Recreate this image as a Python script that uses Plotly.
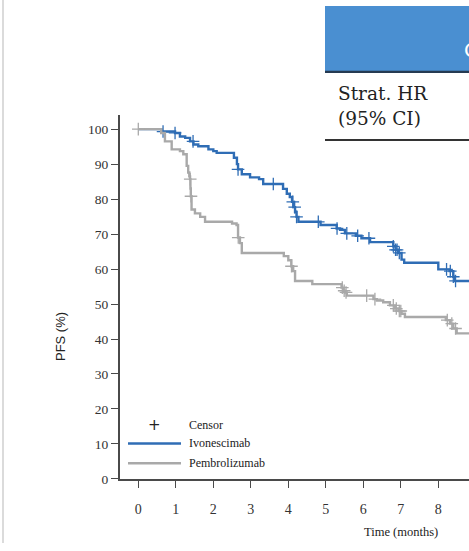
import numpy as np
import plotly.graph_objects as go

W, H = 469, 551

# ---- data ----
ivo_t = [0, 0.62, 0.98, 1.11, 1.25, 1.38, 1.47, 1.6, 1.87, 2.0, 2.09, 2.55, 2.63, 2.66, 2.76,
         2.98, 3.22, 3.33, 3.86, 3.96, 4.04, 4.1, 4.14, 4.18, 4.22, 4.27, 4.86, 5.29, 5.38,
         5.51, 5.8, 5.95, 6.18, 6.8, 6.86, 6.93, 7.02, 7.09, 8.0, 8.3, 8.4, 8.44]
ivo_s = [100, 99.3, 98.9, 97.9, 97.5, 96.5, 95.6, 95.1, 94.2, 93.7, 93.2, 91.8, 90.0, 88.5, 87.1,
         86.2, 85.7, 84.3, 82.9, 81.5, 80.6, 79.2, 77.7, 76.3, 74.9, 73.5, 72.6, 71.6, 71.2,
         70.2, 69.5, 68.8, 67.7, 66.5, 65.5, 64.6, 62.7, 61.8, 59.9, 59.4, 57.8, 56.6]
ivo_cens = [0.66, 0.98, 1.46, 2.66, 3.6, 4.12, 4.17, 4.22, 4.8, 5.3, 5.56, 5.85, 6.15,
            6.8, 6.86, 6.9, 6.96, 8.22, 8.32, 8.4, 8.46]

pem_t = [0, 0.61, 0.71, 0.89, 1.11, 1.2, 1.29, 1.33, 1.36, 1.38, 1.39, 1.4, 1.42, 1.51, 1.65,
         1.78, 2.5, 2.62, 2.66, 2.71, 2.76, 3.88, 4.0, 4.08, 4.13, 4.18, 4.64, 5.42, 5.47,
         5.51, 5.56, 6.27, 6.36, 6.53, 6.71, 6.85, 6.95, 7.02, 7.11, 8.2, 8.31, 8.4, 8.49]
pem_s = [100, 98.9, 96.5, 94.2, 93.7, 92.8, 89.5, 87.6, 86.5, 85.7, 83.0, 80.8, 77.0, 75.9, 74.9,
         73.5, 73.0, 72.6, 69.0, 67.4, 64.6, 63.7, 62.5, 60.8, 59.4, 56.6, 55.7, 54.7, 53.8,
         53.3, 52.4, 51.4, 51.0, 50.5, 49.6, 48.7, 48.0, 47.2, 46.3, 45.4, 44.4, 43.0, 41.6]
pem_cens = [0.0, 1.385, 1.405, 2.665, 4.085, 5.44, 5.49, 5.54, 6.09, 6.31, 6.8, 6.88,
            6.96, 7.0, 8.24, 8.36, 8.46]

x_ticks = list(range(0, 9))
y_ticks = list(range(0, 101, 10))

BLUE = "#2f6db5"
GREY = "#a9a9a9"
AX = "#4a4a4a"
SERIF = "Liberation Serif"


def step_val(ts, ss, t):
    i = np.searchsorted(np.array(ts), t, side="right") - 1
    return ss[max(i, 0)]


def px(x):
    return x / W


def py(y):
    return 1 - y / H


fig = go.Figure()

for name, ts, ss, cens, col in [("Ivonescimab", ivo_t, ivo_s, ivo_cens, BLUE),
                                ("Pembrolizumab", pem_t, pem_s, pem_cens, GREY)]:
    tx = list(ts) + [9.5]
    sy = list(ss) + [ss[-1]]
    fig.add_trace(go.Scatter(x=tx, y=sy, mode="lines", line=dict(color=col, width=2.4, shape="hv"),
                             name=name, showlegend=False, hoverinfo="skip"))
    cy = [step_val(ts, ss, c) for c in cens]
    fig.add_trace(go.Scatter(x=cens, y=cy, mode="markers", showlegend=False, hoverinfo="skip",
                             marker=dict(symbol="cross-thin", size=9, line=dict(color=col, width=1.3))))

# axes geometry
xl, xr = 120, W
yb, yt = 486, 117
x_px_per = 37.5
x0_px = 138.3
y_px_per = 3.55

fig.update_layout(
    width=W, height=H, margin=dict(l=0, r=0, t=0, b=0),
    paper_bgcolor="white", plot_bgcolor="white",
    xaxis=dict(domain=[px(xl), 1], range=[(xl - x0_px) / x_px_per, (xr - x0_px) / x_px_per],
               tickvals=x_ticks, ticktext=[str(v) for v in x_ticks], showgrid=False, zeroline=False,
               showline=True, linecolor=AX, linewidth=2, ticks="outside", ticklen=7, tickwidth=1.2,
               tickcolor=AX, ticklabelstandoff=9, tickfont=dict(family=SERIF, size=14, color="#333")),
    yaxis=dict(domain=[py(yb), py(yt)], range=[0, (yb - yt) / y_px_per],
               tickvals=y_ticks, showgrid=False, zeroline=False,
               showline=True, linecolor=AX, linewidth=2, ticks="outside", ticklen=7, tickwidth=1.2,
               tickcolor=AX, tickfont=dict(family=SERIF, size=13.5, color="#333")),
)

shapes = []
annotations = []
# left slide border
shapes.append(dict(type="line", xref="paper", yref="paper", x0=px(3), x1=px(3), y0=0, y1=1,
                   line=dict(color="#cfcfcf", width=1.5)))
# header blue box
shapes.append(dict(type="rect", xref="paper", yref="paper", x0=px(325), x1=1.01, y0=py(73), y1=py(6),
                   fillcolor="#4a8fd1", line=dict(width=0)))
shapes.append(dict(type="line", xref="paper", yref="paper", x0=px(325), x1=1.01, y0=py(73), y1=py(73),
                   line=dict(color="#253a52", width=2.2)))
shapes.append(dict(type="line", xref="paper", yref="paper", x0=px(325), x1=1.01, y0=py(142), y1=py(142),
                   line=dict(color="#333333", width=2)))
annotations.append(dict(text="C", xref="paper", yref="paper", x=px(462), y=py(51), xanchor="left",
                        yanchor="middle", showarrow=False, font=dict(family="DejaVu Sans", size=20, color="white")))
annotations.append(dict(text="Strat. HR", xref="paper", yref="paper", x=px(336), y=py(95), xanchor="left",
                        yanchor="middle", showarrow=False, font=dict(family="DejaVu Serif", size=18.5, color="#222")))
annotations.append(dict(text="(95% CI)", xref="paper", yref="paper", x=px(336), y=py(120), xanchor="left",
                        yanchor="middle", showarrow=False, font=dict(family="DejaVu Serif", size=18.5, color="#222")))

# axis titles
annotations.append(dict(text="PFS (%)", xref="paper", yref="paper", x=px(60), y=py(342), textangle=-90,
                        xanchor="center", yanchor="middle", showarrow=False,
                        font=dict(family="Liberation Sans", size=13, color="#222")))
annotations.append(dict(text="Time (months)", xref="paper", yref="paper", x=px(401), y=py(540),
                        xanchor="center", yanchor="middle", showarrow=False,
                        font=dict(family=SERIF, size=12.5, color="#222")))

# legend
annotations.append(dict(text="+", xref="paper", yref="paper", x=px(154), y=py(431), xanchor="center",
                        yanchor="middle", showarrow=False, font=dict(family="DejaVu Sans", size=15, color="#222")))
for label, yy, col in [("Censor", 431, None), ("Ivonescimab", 450, BLUE), ("Pembrolizumab", 470, GREY)]:
    if col:
        shapes.append(dict(type="line", xref="paper", yref="paper", x0=px(128), x1=px(181), y0=py(yy), y1=py(yy),
                           line=dict(color=col, width=2.6)))
    annotations.append(dict(text=label, xref="paper", yref="paper", x=px(187), y=py(yy), xanchor="left",
                            yanchor="middle", showarrow=False, font=dict(family=SERIF, size=12, color="#222")))

fig.update_layout(shapes=shapes, annotations=annotations)
fig.write_html("out.html")
